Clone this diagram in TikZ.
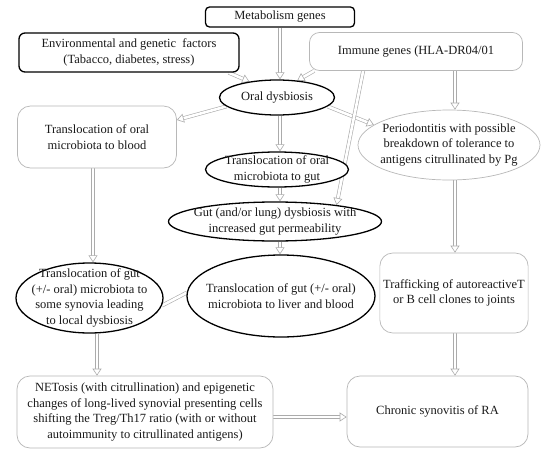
\documentclass[tikz,border=0pt]{standalone}
\usepackage{fontspec}
\setmainfont{Liberation Serif}
\usetikzlibrary{shapes.geometric,arrows.meta,calc,backgrounds}
\definecolor{boxgray}{HTML}{B8B8B8}
\definecolor{arrgray}{HTML}{ABABAB}
\definecolor{txt}{HTML}{1A1A1A}
\begin{document}
\begin{tikzpicture}[x=1pt,y=-1pt,
  every node/.style={font=\fontsize{12.5}{15.5}\selectfont, text=txt, align=center},
  bbox/.style={draw=black, line width=1.3pt, rounded corners=4pt, fill=white},
  gbox/.style={draw=boxgray, line width=0.7pt, rounded corners=13pt, fill=white},
  bell/.style={ellipse, draw=black, line width=1.3pt, fill=white, inner xsep=-15pt, inner ysep=-10pt},
  gell/.style={ellipse, draw=boxgray, line width=0.7pt, fill=white, inner xsep=-15pt, inner ysep=-10pt},
  hshaft/.style={draw=arrgray, line width=0.6pt, double=white, double distance=2.6pt},
  harrow/.style={draw=none,
    preaction={draw=arrgray, line width=0.6pt, double=white, double distance=2.6pt, shorten >=6.5pt},
    postaction={draw=arrgray, line width=0.6pt, dash pattern=on 0pt off 1000pt,
      -{Triangle[length=7pt,width=9pt,fill=white]}}}
]
\useasboundingbox (0,0) rectangle (550,453);

\node[bbox, minimum width=149pt, minimum height=20pt] (metab) at (280,17) {Metabolism genes};
\node[bbox, rounded corners=6pt, minimum width=220pt, minimum height=39pt] (env) at (129,52.5) {Environmental and genetic\ \ factors\\(Tabacco, diabetes, stress)};
\node[gbox, rounded corners=10pt, minimum width=213pt, minimum height=38pt] (immune) at (416,51.5) {Immune genes (HLA-DR04/01};
\node[bell, minimum width=115pt, minimum height=35pt] (oral) at (277,97.5) {Oral dysbiosis};
\node[gbox, minimum width=159pt, minimum height=62pt] (blood) at (97,137) {Translocation of oral\\microbiota to blood};
\node[bell, minimum width=143pt, minimum height=35pt] (gutT) at (277,169.5) {Translocation of oral\\microbiota to gut};
\node[gell, minimum width=182pt, minimum height=70pt] (perio) at (449,145) {Periodontitis with possible\\breakdown of tolerance to\\antigens citrullinated by Pg};
\node[bell, minimum width=213pt, minimum height=39pt] (gutD) at (275,221.5) {Gut (and/or lung) dysbiosis with\\increased gut permeability};
\node[bell, minimum width=147pt, minimum height=70pt] (syn) at (89.5,298) {Translocation of gut\\(+/- oral) microbiota to\\some synovia leading\\to local dysbiosis};
\node[bell, minimum width=188pt, minimum height=82pt] (liver) at (281,296) {Translocation of gut (+/- oral)\\microbiota to liver and blood};
\node[gbox, minimum width=148pt, minimum height=80pt] (traff) at (454,293) {Trafficking of autoreactiveT\\or B cell clones to joints};
\node[gbox, minimum width=256pt, minimum height=72pt] (net) at (145,412) {NETosis (with citrullination) and epigenetic\\changes of long-lived synovial presenting cells\\shifting the Treg/Th17 ratio (with or without\\autoimmunity to citrullinated antigens)};
\node[gbox, minimum width=181pt, minimum height=71pt] (chronic) at (437.5,411.5) {Chronic synovitis of RA};

\coordinate (mcol) at (280,0);
\coordinate (lcol) at (93,0);
\coordinate (lcolb) at (97,0);
\coordinate (rcol) at (455,0);

\begin{scope}[on background layer]
\fill[white] (0,0) rectangle (550,453);
\draw[harrow] (metab.south -| mcol) -- (oral.north -| mcol);
\draw[harrow] ([xshift=-11pt]env.south east) -- (oral.150);
\draw[harrow] ([xshift=5pt]immune.south west) -- (oral.40);
\draw[harrow] (oral.190) -- ([yshift=17pt]blood.east);
\draw[harrow] (oral.-10) -- (perio.165);
\draw[harrow] (oral.south -| mcol) -- (gutT.north -| mcol);
\draw[harrow] (gutT.south -| mcol) -- (gutD.north -| mcol);
\draw[harrow] ([xshift=54pt]immune.south west) -- (gutD.15);
\draw[harrow] (immune.south -| rcol) -- (perio.north -| rcol);
\draw[harrow] (blood.south -| lcol) -- (syn.north -| lcol);
\draw[harrow] (perio.south -| rcol) -- (traff.north -| rcol);
\draw[harrow] (gutD.south -| mcol) -- (liver.north -| mcol);
\draw[hshaft] (liver.178) -- (syn.-6);
\draw[harrow] (syn.south -| lcolb) -- (net.north -| lcolb);
\draw[harrow] (traff.south -| rcol) -- (chronic.north -| rcol);
\draw[harrow] ([yshift=-5pt]net.east) -- ([yshift=-5pt]net.east -| chronic.west);
\end{scope}
\end{tikzpicture}
\end{document}
